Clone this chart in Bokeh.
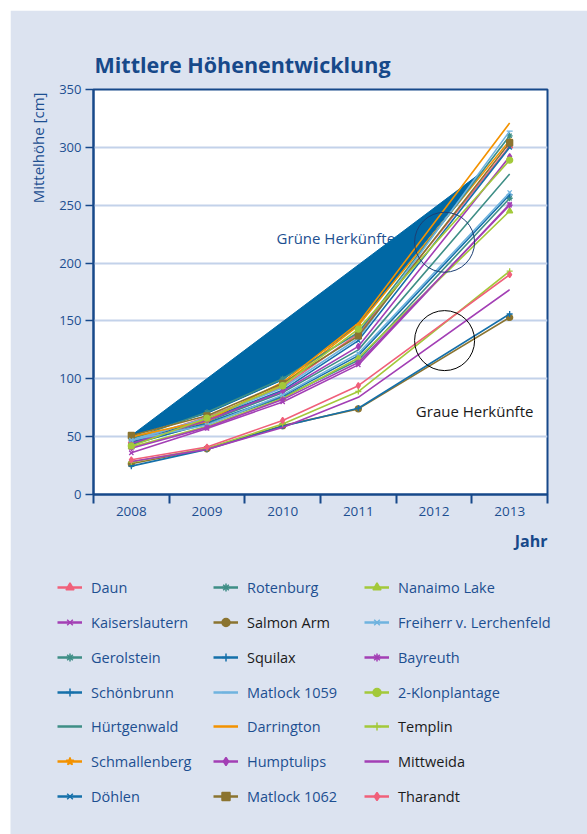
import math
from bokeh.plotting import figure
from bokeh.models import FixedTicker, Range1d, Label, Legend, LegendItem, Title
from bokeh.embed import file_html
from bokeh.resources import INLINE

# ---------------- data ----------------
x_years = [2008, 2009, 2010, 2011, 2013]          # 2012 not measured
axis_years = ["2008", "2009", "2010", "2011", "2012", "2013"]
y_ticks = [0, 50, 100, 150, 200, 250, 300, 350]

daun = [46, 67, 93, 139, 301]
kaiserslautern = [36, 57, 80, 112, 251]
gerolstein = [44, 61, 84, 116, 256]
schoenbrunn = [43, 62, 85, 120, 259]
huertgenwald = [45, 63, 88, 125, 277]
schmallenberg = [49, 63, 95, 146, 306]
doehlen = [45, 65, 90, 133, 300]
rotenburg = [48, 71, 100, 140, 310]
salmon_arm = [26.5, 39.5, 59.5, 74, 153]
squilax = [24.5, 39, 59, 74.5, 156]
matlock_1059 = [47, 66, 92, 135, 314]
darrington = [50, 64, 97, 148, 321]
humptulips = [44, 64, 89, 128, 292]
matlock_1062 = [51, 68, 96, 137, 304]
nanaimo_lake = [41, 59, 83, 118, 245]
freiherr = [47, 60, 86, 122, 261]
bayreuth = [40, 58, 82, 114, 250]
klonplantage = [42, 66, 94, 143, 289]
templin = [28, 40, 61, 89, 193]
mittweida = [28.5, 39, 58, 84, 177]
tharandt = [30, 41, 64, 94, 190]

# filled area of the green provenances (as drawn in the original)
area_x = [2008, 2012.62, 2011, 2010, 2009]
area_y = [51, 278, 146, 99, 70]

# highlight circles around 2012
circle_x = [2012.14, 2012.14]
circle_y = [218, 133]

# ---------------- style ----------------
BG = "#dce3f0"
DARK = "#17498a"
TXT = "#1d4f91"
BLACK = "#1a1a1a"
pink, purple, teal, blue = "#f0607a", "#a33fb5", "#3e8e86", "#1570aa"
orange, brown, lblue, green = "#f39200", "#8b7430", "#6fb3df", "#a3c93a"

series = [
    # name, data, color, marker, text color, column, row
    ("Daun", daun, pink, "triangle", TXT, 0, 0),
    ("Kaiserslautern", kaiserslautern, purple, "x", TXT, 0, 1),
    ("Gerolstein", gerolstein, teal, "asterisk", TXT, 0, 2),
    ("Schönbrunn", schoenbrunn, blue, "cross", TXT, 0, 3),
    ("Hürtgenwald", huertgenwald, teal, None, TXT, 0, 4),
    ("Schmallenberg", schmallenberg, orange, "star", TXT, 0, 5),
    ("Döhlen", doehlen, blue, "x", TXT, 0, 6),
    ("Rotenburg", rotenburg, teal, "asterisk", TXT, 1, 0),
    ("Salmon Arm", salmon_arm, brown, "circle", BLACK, 1, 1),
    ("Squilax", squilax, blue, "cross", BLACK, 1, 2),
    ("Matlock 1059", matlock_1059, lblue, "dash", TXT, 1, 3),
    ("Darrington", darrington, orange, None, TXT, 1, 4),
    ("Humptulips", humptulips, purple, "diamond", TXT, 1, 5),
    ("Matlock 1062", matlock_1062, brown, "square", TXT, 1, 6),
    ("Nanaimo Lake", nanaimo_lake, green, "triangle", TXT, 2, 0),
    ("Freiherr v. Lerchenfeld", freiherr, lblue, "x", TXT, 2, 1),
    ("Bayreuth", bayreuth, purple, "asterisk", TXT, 2, 2),
    ("2-Klonplantage", klonplantage, green, "circle", TXT, 2, 3),
    ("Templin", templin, green, "cross", BLACK, 2, 4),
    ("Mittweida", mittweida, purple, None, BLACK, 2, 5),
    ("Tharandt", tharandt, pink, "diamond", BLACK, 2, 6),
]

# ---------------- main chart ----------------
p = figure(width=577, height=551, output_backend="svg", toolbar_location=None,
           x_range=Range1d(2007.5, 2013.5), y_range=Range1d(0, 350),
           min_border_left=83, min_border_right=40, min_border_top=79,
           min_border_bottom=67, title="Mittlere Höhenentwicklung")
p.margin = (10, 0, 0, 10)
p.background_fill_color = "white"
p.border_fill_color = BG
p.border_fill_alpha = 1
p.outline_line_color = DARK
p.outline_line_width = 2

p.title.align = "left"
p.title.offset = 1
p.title.standoff = 22
p.title.text_color = DARK
p.title.text_font = "Open Sans"
p.title.text_font_size = "21.5px"
p.title.text_font_style = "bold"

# y axis
p.yaxis.ticker = FixedTicker(ticks=y_ticks)
p.yaxis.axis_line_color = DARK
p.yaxis.axis_line_width = 2
p.yaxis.major_tick_line_color = DARK
p.yaxis.major_tick_line_width = 1.5
p.yaxis.major_tick_out = 8
p.yaxis.major_tick_in = 0
p.yaxis.minor_tick_line_color = None
p.yaxis.major_label_text_color = TXT
p.yaxis.major_label_text_font = "Open Sans"
p.yaxis.major_label_text_font_size = "13px"
p.yaxis.major_label_standoff = 4
p.ygrid.ticker = FixedTicker(ticks=y_ticks)
p.ygrid.grid_line_color = "#c3d2ea"
p.ygrid.grid_line_width = 2
p.xgrid.grid_line_color = None

# x axis: labels centred on years, short marks between years
p.xaxis.ticker = FixedTicker(ticks=[2008 + i for i in range(6)],
                             minor_ticks=[2007.5 + i for i in range(7)])
p.xaxis.major_label_overrides = {2008 + i: axis_years[i] for i in range(6)}
p.xaxis.axis_line_color = DARK
p.xaxis.axis_line_width = 2
p.xaxis.major_tick_line_color = None
p.xaxis.major_tick_out = 9
p.xaxis.major_tick_in = 0
p.xaxis.minor_tick_line_color = DARK
p.xaxis.minor_tick_line_width = 2
p.xaxis.minor_tick_out = 9
p.xaxis.minor_tick_in = 0
p.xaxis.major_label_standoff = 3
p.xaxis.major_label_text_color = TXT
p.xaxis.major_label_text_font = "Open Sans"
p.xaxis.major_label_text_font_size = "13.5px"

p.add_layout(Title(text="Jahr", align="right", text_color=DARK, text_font="Open Sans",
                   text_font_size="16px", text_font_style="bold", standoff=18), "below")
p.add_layout(Title(text="Mittelhöhe [cm]", align="right", text_color=TXT,
                   text_font="Open Sans", text_font_size="15px", text_font_style="normal",
                   standoff=17, offset=3), "left")

# text under the area
p.add_layout(Label(x=2009.92, y=222, text="Grüne Herkünfte", text_color=TXT,
                   text_font="Open Sans", text_font_size="15px",
                   text_baseline="middle", level="underlay"))

# the filled area
p.patch(area_x, area_y, fill_color="#0068a5", line_color="#0068a5", line_width=1)

for name, data, color, marker, tcol, col, row in series:
    p.line(x_years, data, line_color=color, line_width=1.6)
    if marker is not None:
        p.scatter(x_years, data, marker=marker, size=6, line_color=color,
                  fill_color=color, line_width=1.3)

p.scatter(circle_x, circle_y, marker="circle", size=60, fill_alpha=0,
          line_color=["#1d3f73", "black"], line_width=1)

p.add_layout(Label(x=2011.76, y=72.5, text="Graue Herkünfte", text_color=BLACK,
                   text_font="Open Sans", text_font_size="15px", text_baseline="middle"))

# ---------------- legend panel ----------------
LEG_TOP = 560
q = figure(width=577, height=834 - LEG_TOP, output_backend="svg", toolbar_location=None,
           x_range=Range1d(0, 1), y_range=Range1d(0, 1), x_axis_type=None,
           y_axis_type=None, min_border=0)
q.margin = (-1, 0, 0, 10)
q.background_fill_color = BG
q.border_fill_color = BG
q.outline_line_color = None
q.grid.grid_line_color = None

legend_rows = [587, 622, 657, 692, 726, 761, 796]
legend_cols = [57, 213, 364]
for name, data, color, marker, tcol, col, row in series:
    rends = [q.line([-10, -9], [-10, -9], line_color=color, line_width=2.5)]
    if marker is not None:
        rends.append(q.scatter([-10], [-10], marker=marker, size=7, line_color=color,
                               fill_color=color, line_width=1.5))
    vx = legend_cols[col] - 10
    vy = 834 - (legend_rows[row] + 10)
    q.add_layout(Legend(items=[LegendItem(label=name, renderers=rends)], location=(vx, vy),
                        padding=0, margin=0, spacing=0, border_line_color=None,
                        background_fill_alpha=0, glyph_width=25, glyph_height=20,
                        label_height=20, label_standoff=9, label_text_color=tcol,
                        label_text_font="Open Sans", label_text_font_size="14.5px"))

open("out.html", "w").write(file_html([p, q], INLINE))
